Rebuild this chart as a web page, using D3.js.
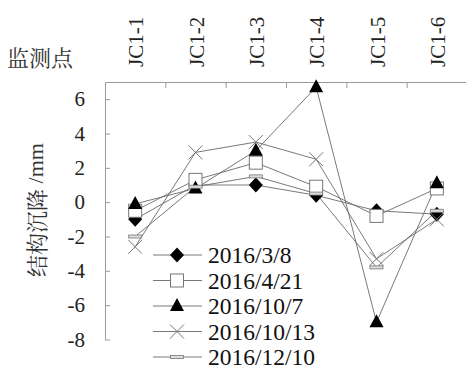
<!DOCTYPE html>
<html><head><meta charset="utf-8">
<script src="https://cdn.jsdelivr.net/npm/d3@7"></script>
<style>body{margin:0;background:#fff}</style>
</head><body>
<svg id="c" width="466" height="370"></svg>
<script>
const categories = ["JC1-1","JC1-2","JC1-3","JC1-4","JC1-5","JC1-6"];
const yTicks = [-8,-6,-4,-2,0,2,4,6];
const seriesNames = ["2016/3/8","2016/4/21","2016/10/7","2016/10/13","2016/12/10"];
const s0 = [-1.0, 1.0, 1.0, 0.4, -0.5, -0.7];
const s1 = [-0.5, 1.3, 2.3, 0.9, -0.8, 0.8];
const s2 = [-0.1, 0.8, 3.0, 6.7, -7.0, 1.1];
const s3 = [-2.6, 2.9, 3.5, 2.5, -3.3, -1.0];
const s4 = [-2.0, 0.9, 1.5, 0.5, -3.8, -0.5];
const seriesValues = [s0, s1, s2, s3, s4];
const markerTypes = ["diamond","square","triangle","cross","dash"];

const SERIF = '"Liberation Serif"';
const CJK = '"Noto Serif CJK SC"';
const svg = d3.select("#c");
const L = 105, R = 467, T = 82, B = 339.5;
const x = d3.scaleBand().domain(categories).range([L, R]);
const xIdx = d3.scaleLinear().domain([0, categories.length]).range([L, R]);
const y = d3.scaleLinear().domain([-8, 7]).range([B, T]);
const axisColor = "#9a9a9a";
const lineColor = "#6a6a6a";

// top axis
const gTop = svg.append("g").attr("transform", `translate(0,${T})`)
  .call(d3.axisTop(xIdx).tickValues([1,2,3,4,5]).tickSizeInner(-6).tickSizeOuter(0).tickFormat(""));
gTop.select(".domain").attr("stroke", axisColor);
gTop.selectAll(".tick line").attr("stroke", axisColor);

// left axis
const gLeft = svg.append("g").attr("transform", `translate(${L},0)`)
  .call(d3.axisLeft(y).tickValues(yTicks).tickSizeInner(-5).tickSizeOuter(0).tickPadding(20).tickFormat(d => String(d)));
gLeft.attr("font-family", null).attr("font-size", null);
gLeft.select(".domain").attr("stroke", axisColor);
gLeft.selectAll(".tick line").attr("stroke", axisColor);
gLeft.selectAll(".tick text").style("font-family", SERIF).style("font-size", "21px").attr("fill", "#222");

// category labels (rotated)
svg.append("g").selectAll("text").data(categories).join("text")
  .attr("transform", d => `translate(${x(d) + x.bandwidth()/2 + 1},67) rotate(-90)`)
  .attr("dominant-baseline", "central")
  .style("font-family", SERIF).style("font-size", "21px").attr("fill", "#222")
  .text(d => d);

svg.append("text").attr("x", 7).attr("y", 66)
  .style("font-family", CJK).style("font-size", "22px").attr("fill", "#333")
  .text("监测点");

const yl = svg.append("text").attr("transform", "translate(35,210) rotate(-90)")
  .attr("text-anchor", "middle").attr("dominant-baseline", "central")
  .style("font-size", "22px").attr("fill", "#333");
yl.append("tspan").style("font-family", CJK).text("结构沉降");
yl.append("tspan").style("font-family", SERIF).text(" /mm");

function drawMarker(g, type, cx, cy) {
  if (type === "diamond") {
    g.append("path").attr("d", `M${cx},${cy-7.5}L${cx+7},${cy}L${cx},${cy+7.5}L${cx-7},${cy}Z`).attr("fill", "#000");
  } else if (type === "square") {
    g.append("rect").attr("x", cx-6.5).attr("y", cy-6.5).attr("width", 13).attr("height", 13)
      .attr("fill", "#fff").attr("stroke", "#777").attr("stroke-width", 1);
  } else if (type === "triangle") {
    g.append("path").attr("d", `M${cx},${cy-8}L${cx+7},${cy+5}L${cx-7},${cy+5}Z`).attr("fill", "#000");
  } else if (type === "cross") {
    g.append("path").attr("d", `M${cx-7},${cy-7}L${cx+7},${cy+7}M${cx+7},${cy-7}L${cx-7},${cy+7}`)
      .attr("stroke", "#777").attr("stroke-width", 1).attr("fill", "none");
  } else if (type === "dash") {
    g.append("rect").attr("x", cx-6.5).attr("y", cy-1.5).attr("width", 13).attr("height", 3)
      .attr("fill", "#ddd").attr("stroke", "#777").attr("stroke-width", 0.8);
  }
}

const line = d3.line().x((d,i) => x(categories[i]) + x.bandwidth()/2).y(d => y(d));
const plot = svg.append("g");
seriesValues.forEach((vals) => {
  plot.append("path").datum(vals).attr("d", line).attr("fill", "none").attr("stroke", lineColor).attr("stroke-width", 0.9);
});
seriesValues.forEach((vals, si) => {
  const g = plot.append("g");
  vals.forEach((v, i) => drawMarker(g, markerTypes[si], x(categories[i]) + x.bandwidth()/2, y(v)));
});

// legend
const lg = svg.append("g");
seriesNames.forEach((name, i) => {
  const cy = 255 + i * 25.5;
  lg.append("line").attr("x1", 153).attr("x2", 202).attr("y1", cy).attr("y2", cy).attr("stroke", lineColor).attr("stroke-width", 0.9);
  drawMarker(lg, markerTypes[i], 177, cy);
  lg.append("text").attr("x", 208).attr("y", cy).attr("dominant-baseline", "central")
    .style("font-family", SERIF).style("font-size", "23.5px").attr("fill", "#111").text(name);
});
</script>
</body></html>
